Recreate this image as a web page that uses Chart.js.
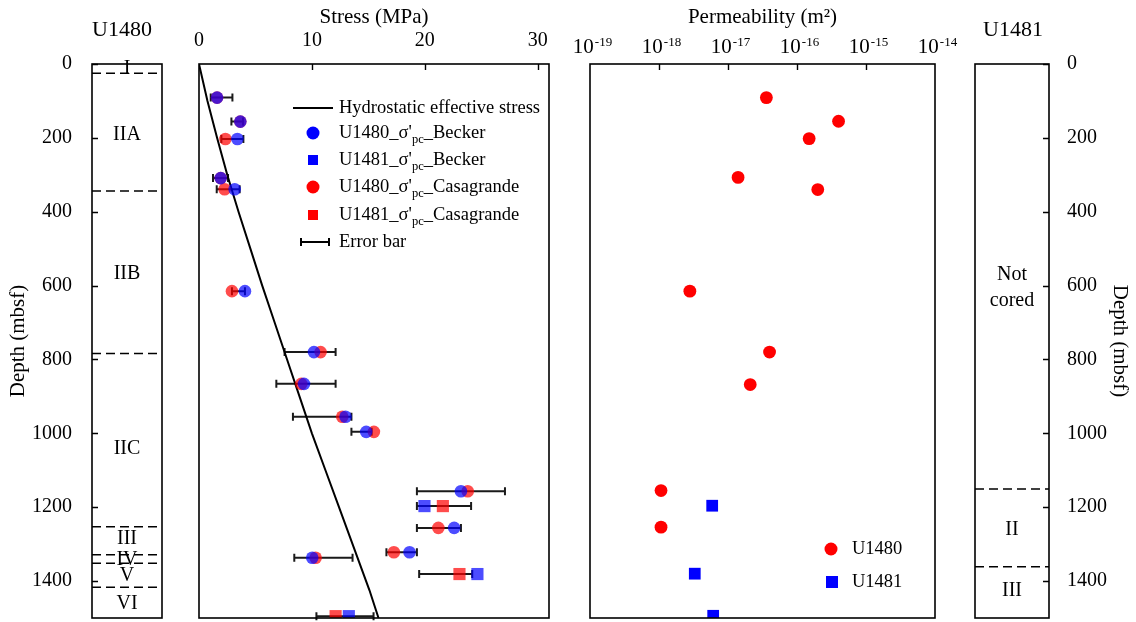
<!DOCTYPE html>
<html lang="en">
<head>
<meta charset="UTF-8">
<title>Preconsolidation stress and permeability, Sites U1480 / U1481</title>
<script src="https://cdn.jsdelivr.net/npm/chart.js@4.4.1/dist/chart.umd.min.js"></script>
<style>
    body { margin: 0; background: #fff; }
    #wrap { position: relative; width: 1136px; height: 622px; }
    #wrap canvas { position: absolute; top: 0; }
</style>
</head>
<body>
<div id="wrap">
    <canvas id="col1480" width="175" height="622" style="left:0px"></canvas>
    <canvas id="stress" width="395" height="622" style="left:175px"></canvas>
    <canvas id="perm" width="400" height="622" style="left:570px"></canvas>
    <canvas id="col1481" width="181" height="622" style="left:955px"></canvas>
</div>
<script>
// ---- depth axis shared by every panel (mbsf) ----
const depthMax = 1500;
const depthTicks = [0, 200, 400, 600, 800, 1000, 1200, 1400];

// ---- lithologic units ----
const units1480 = ['I', 'IIA', 'IIB', 'IIC', 'III', 'IV', 'V', 'VI'];
const unitMid1480 = [14, 192, 567, 1043, 1286, 1342, 1385, 1462];
const unitBounds1480 = [25, 344, 784, 1253, 1329, 1352, 1417];
const units1481 = ['Not\ncored', 'II', 'III'];
const unitMid1481 = [607, 1260, 1427];
const unitBounds1481 = [1151, 1361];

// ---- stress panel ----
const stressTicks = [0, 10, 20, 30];
const stressMax = 31;
const hydroDepth = [0, 100, 200, 300, 400, 500, 600, 700, 800, 900, 1000, 1100, 1200, 1300, 1425, 1500];
const hydroStress = [0, 0.75, 1.6, 2.5, 3.5, 4.55, 5.6, 6.7, 7.8, 8.9, 10.0, 11.2, 12.4, 13.6, 15.1, 15.9];

const depth1480 = [91, 156, 203, 309, 339, 615, 780, 866, 955, 996, 1157, 1256, 1322, 1337];
const becker1480 = [1.6, 3.66, 3.4, 1.92, 3.16, 4.07, 10.18, 9.3, 12.98, 14.81, 23.2, 22.6, 18.65, 10.03];
const casa1480 = [1.6, 3.66, 2.34, 1.92, 2.27, 2.92, 10.77, 9.06, 12.69, 15.49, 23.8, 21.2, 17.26, 10.33];
const errLo1480 = [1.04, 2.87, 1.98, 1.24, 1.57, 2.92, 7.58, 6.85, 8.32, 13.5, 19.3, 19.3, 16.6, 8.44];
const errHi1480 = [2.96, 3.9, 3.93, 2.57, 3.6, 4.07, 12.1, 12.1, 13.5, 15.3, 27.1, 23.2, 19.3, 13.6];

const depth1481 = [1197, 1381, 1495];
const becker1481 = [19.97, 24.66, 13.27];
const casa1481 = [21.6, 23.07, 12.1];
const errLo1481 = [19.3, 19.5, 10.4];
const errHi1481 = [24.1, 24.2, 15.46];

// ---- permeability panel (m^2) ----
const permExponents = [-19, -18, -17, -16, -15, -14];
const permDepth1480 = [91, 155, 202, 307, 340, 615, 780, 868, 1155, 1254];
const perm1480 = [3.6e-17, 4.0e-16, 1.5e-16, 1.4e-17, 2.0e-16, 2.8e-18, 4.0e-17, 2.1e-17, 1.07e-18, 1.07e-18];
const permDepth1481 = [1196, 1380, 1494];
const perm1481 = [5.9e-18, 3.3e-18, 6.1e-18];

const FONT = "'Liberation Serif', 'Times New Roman', serif";
const BLUE = 'rgba(0, 0, 255, 0.7)';
const RED = 'rgba(255, 0, 0, 0.7)';

Chart.defaults.font.family = FONT;
Chart.defaults.font.size = 20;
Chart.defaults.color = '#000';
Chart.defaults.animation = false;

const pts = (xs, ys) => xs.map((v, i) => ({ x: v, y: ys[i] }));

// box around the plot area plus short inward tick marks
const framePlugin = {
    id: 'frame',
    afterDatasetsDraw(chart, args, opts) {
        const { ctx, chartArea: a, scales } = chart;
        ctx.save();
        ctx.strokeStyle = '#000';
        ctx.lineWidth = 1.6;
        ctx.strokeRect(a.left, a.top, a.right - a.left, a.bottom - a.top);
        ctx.lineWidth = 1.4;
        ctx.beginPath();
        (opts.top || []).forEach(v => {
            const x = Math.round(scales.x.getPixelForValue(v)) + 0.5;
            ctx.moveTo(x, a.top); ctx.lineTo(x, a.top + 6);
        });
        (opts.left || []).forEach(v => {
            const y = Math.round(scales.y.getPixelForValue(v)) + 0.5;
            ctx.moveTo(a.left, y); ctx.lineTo(a.left + 6, y);
        });
        (opts.right || []).forEach(v => {
            const y = Math.round(scales.y.getPixelForValue(v)) + 0.5;
            ctx.moveTo(a.right, y); ctx.lineTo(a.right - 6, y);
        });
        ctx.stroke();
        ctx.restore();
    }
};

// unit names inside the lithology columns and the site heading above
const unitLabels = {
    id: 'unitLabels',
    afterDatasetsDraw(chart, args, opts) {
        const { ctx, chartArea: a, scales: { y } } = chart;
        const cx = (a.left + a.right) / 2;
        const names = chart.canvas.id === 'col1480' ? units1480 : units1481;
        const mids = chart.canvas.id === 'col1480' ? unitMid1480 : unitMid1481;
        ctx.save();
        ctx.fillStyle = '#000';
        ctx.textAlign = 'center';
        ctx.textBaseline = 'middle';
        ctx.font = `20px ${FONT}`;
        names.forEach((name, i) => {
            const lines = name.split('\n');
            const yc = y.getPixelForValue(mids[i]);
            lines.forEach((ln, k) => ctx.fillText(ln, cx, yc + (k - (lines.length - 1) / 2) * 26));
        });
        ctx.font = `22px ${FONT}`;
        ctx.fillText(opts.title, cx + (opts.titleShift || 0), 30);
        ctx.restore();
    }
};

// horizontal error bars, drawn under the markers
const errorBars = {
    id: 'errorBars',
    beforeDatasetsDraw(chart) {
        const { ctx, scales: { x, y } } = chart;
        const sets = [[depth1480, errLo1480, errHi1480], [depth1481, errLo1481, errHi1481]];
        ctx.save();
        ctx.strokeStyle = '#1a1a1a';
        ctx.lineWidth = 2;
        sets.forEach(([dep, lo, hi]) => {
            dep.forEach((d, i) => {
                const yy = y.getPixelForValue(d);
                const x1 = x.getPixelForValue(lo[i]);
                const x2 = x.getPixelForValue(hi[i]);
                ctx.beginPath();
                ctx.moveTo(x1, yy); ctx.lineTo(x2, yy);
                ctx.moveTo(x1, yy - 4); ctx.lineTo(x1, yy + 4);
                ctx.moveTo(x2, yy - 4); ctx.lineTo(x2, yy + 4);
                ctx.stroke();
            });
        });
        ctx.restore();
    }
};

// text with a "pc" subscript after the sigma prime
function drawSubLabel(ctx, x, y, site, method) {
    ctx.font = `18.5px ${FONT}`;
    const head = site + "_\u03c3'";
    ctx.fillText(head, x, y);
    let cx = x + ctx.measureText(head).width;
    ctx.font = `12.5px ${FONT}`;
    ctx.fillText('pc', cx, y + 7);
    cx += ctx.measureText('pc').width;
    ctx.font = `18.5px ${FONT}`;
    ctx.fillText('_' + method, cx, y);
}

const stressLegend = {
    id: 'stressLegend',
    afterDraw(chart) {
        const { ctx, chartArea: a } = chart;
        const mx = a.left + 114, tx = a.left + 140;
        const rows = [a.top + 44, a.top + 69, a.top + 96, a.top + 123, a.top + 151, a.top + 178];
        ctx.save();
        ctx.textAlign = 'left';
        ctx.textBaseline = 'middle';
        ctx.fillStyle = '#000';
        ctx.strokeStyle = '#000';
        ctx.lineWidth = 2;
        ctx.beginPath();
        ctx.moveTo(a.left + 94, rows[0]); ctx.lineTo(a.left + 134, rows[0]);
        ctx.stroke();
        ctx.font = `18.5px ${FONT}`;
        ctx.fillText('Hydrostatic effective stress', tx, rows[0]);

        const items = [
            ['circle', '#0000ff', 'U1480', 'Becker'],
            ['rect', '#0000ff', 'U1481', 'Becker'],
            ['circle', '#ff0000', 'U1480', 'Casagrande'],
            ['rect', '#ff0000', 'U1481', 'Casagrande']
        ];
        items.forEach(([shape, color, site, method], i) => {
            const yy = rows[i + 1];
            ctx.fillStyle = color;
            if (shape === 'circle') {
                ctx.beginPath(); ctx.arc(mx, yy, 6.5, 0, Math.PI * 2); ctx.fill();
            } else {
                ctx.fillRect(mx - 5, yy - 5, 10, 10);
            }
            ctx.fillStyle = '#000';
            drawSubLabel(ctx, tx, yy, site, method);
        });

        const ey = rows[5];
        ctx.beginPath();
        ctx.moveTo(a.left + 102, ey); ctx.lineTo(a.left + 130, ey);
        ctx.moveTo(a.left + 102, ey - 4); ctx.lineTo(a.left + 102, ey + 4);
        ctx.moveTo(a.left + 130, ey - 4); ctx.lineTo(a.left + 130, ey + 4);
        ctx.stroke();
        ctx.font = `18.5px ${FONT}`;
        ctx.fillText('Error bar', tx, ey);
        ctx.restore();
    }
};

// 10^n labels along the top of the permeability panel, plus its legend
const permLabels = {
    id: 'permLabels',
    afterDraw(chart) {
        const { ctx, chartArea: a, scales: { x } } = chart;
        ctx.save();
        ctx.fillStyle = '#000';
        ctx.textBaseline = 'alphabetic';
        ctx.textAlign = 'left';
        permExponents.forEach(e => {
            const px = x.getPixelForValue(Math.pow(10, e));
            ctx.font = `21px ${FONT}`;
            const w1 = ctx.measureText('10').width;
            ctx.font = `13px ${FONT}`;
            const sup = String(e);
            const w2 = ctx.measureText(sup).width;
            const left = px - (w1 + w2) / 2 + 2;
            ctx.font = `21px ${FONT}`;
            ctx.fillText('10', left, 53);
            ctx.font = `13px ${FONT}`;
            ctx.fillText(sup, left + w1 + 1, 46);
        });

        // legend
        ctx.textBaseline = 'middle';
        ctx.font = `18.5px ${FONT}`;
        ctx.fillStyle = '#ff0000';
        ctx.beginPath(); ctx.arc(a.left + 241, a.top + 485, 6.5, 0, Math.PI * 2); ctx.fill();
        ctx.fillStyle = '#0000ff';
        ctx.fillRect(a.left + 236, a.top + 512, 12, 12);
        ctx.fillStyle = '#000';
        ctx.fillText('U1480', a.left + 262, a.top + 485);
        ctx.fillText('U1481', a.left + 262, a.top + 518);
        ctx.restore();
    }
};

const hiddenY = {
    display: false, min: 0, max: depthMax, reverse: true
};
const noGrid = { display: false, drawTicks: false };

function boundaryLines(bounds) {
    return bounds.map(b => ({
        type: 'line',
        data: [{ x: 0, y: b }, { x: 1, y: b }],
        borderColor: '#000',
        borderWidth: 1.5,
        borderDash: [9, 5],
        pointRadius: 0
    }));
}

function columnChart(id, title, bounds, side, titleShift) {
    const yAxis = {
        position: side, min: 0, max: depthMax, reverse: true,
        grid: noGrid, border: { display: false },
        afterBuildTicks: s => { s.ticks = depthTicks.map(v => ({ value: v })); },
        afterFit: s => {
            s.width = side === 'left' ? 92 : 87;
            // keep the label overhang from shrinking the column
            s.paddingTop = 0;
            s.paddingBottom = 0;
        },
        ticks: { padding: side === 'left' ? 20 : 18, font: { size: 20 }, callback: v => String(v) },
        title: {
            display: true, text: 'Depth (mbsf)', font: { size: 21 },
            padding: { top: side === 'left' ? 6 : 4, bottom: 0 }
        }
    };
    return new Chart(document.getElementById(id), {
        type: 'scatter',
        data: { datasets: boundaryLines(bounds) },
        options: {
            responsive: false,
            layout: {
                autoPadding: false,
                padding: side === 'left'
                    ? { top: 64, bottom: 4, left: 0, right: 13 }
                    : { top: 64, bottom: 4, left: 20, right: 0 }
            },
            scales: {
                x: { display: false, min: 0, max: 1 },
                y: yAxis
            },
            plugins: {
                legend: { display: false },
                tooltip: { enabled: false },
                frame: side === 'left' ? { left: depthTicks } : { right: depthTicks },
                unitLabels: { title: title, titleShift: titleShift }
            }
        },
        plugins: [framePlugin, unitLabels]
    });
}

columnChart('col1480', 'U1480', unitBounds1480, 'left', -5);
columnChart('col1481', 'U1481', unitBounds1481, 'right', 1);

// preconsolidation stress vs depth
new Chart(document.getElementById('stress'), {
    type: 'scatter',
    data: {
        datasets: [
            { label: 'U1480_Becker', data: pts(becker1480, depth1480), backgroundColor: BLUE, pointStyle: 'circle', pointRadius: 6.3, borderWidth: 0 },
            { label: 'U1481_Becker', data: pts(becker1481, depth1481), backgroundColor: BLUE, pointStyle: 'rect', pointRadius: 8.6, borderWidth: 0 },
            { label: 'U1480_Casagrande', data: pts(casa1480, depth1480), backgroundColor: RED, pointStyle: 'circle', pointRadius: 6.3, borderWidth: 0 },
            { label: 'U1481_Casagrande', data: pts(casa1481, depth1481), backgroundColor: RED, pointStyle: 'rect', pointRadius: 8.6, borderWidth: 0 },
            { label: 'Hydrostatic effective stress', type: 'line', data: pts(hydroStress, hydroDepth), borderColor: '#000', borderWidth: 2, pointRadius: 0, tension: 0 }
        ]
    },
    options: {
        responsive: false,
        layout: { autoPadding: false, padding: { top: 0, bottom: 4, left: 24, right: 21 } },
        scales: {
            x: {
                position: 'top', min: 0, max: stressMax,
                grid: noGrid, border: { display: false },
                afterBuildTicks: s => { s.ticks = stressTicks.map(v => ({ value: v })); },
                afterFit: s => { s.height = 64; },
                ticks: { padding: 11, font: { size: 20 } },
                title: { display: true, text: 'Stress (MPa)', font: { size: 21 }, padding: { top: 5, bottom: 0 } }
            },
            y: hiddenY
        },
        plugins: {
            legend: { display: false },
            tooltip: { enabled: false },
            frame: { top: [10, 20, 30] }
        }
    },
    plugins: [errorBars, framePlugin, stressLegend]
});

// permeability vs depth
new Chart(document.getElementById('perm'), {
    type: 'scatter',
    data: {
        datasets: [
            { label: 'U1480', data: pts(perm1480, permDepth1480), backgroundColor: '#ff0000', pointStyle: 'circle', pointRadius: 6.4, borderWidth: 0 },
            { label: 'U1481', data: pts(perm1481, permDepth1481), backgroundColor: '#0000ff', pointStyle: 'rect', pointRadius: 8.3, borderWidth: 0 }
        ]
    },
    options: {
        responsive: false,
        layout: { autoPadding: false, padding: { top: 0, bottom: 4, left: 20, right: 35 } },
        scales: {
            x: {
                type: 'logarithmic', position: 'top', min: 1e-19, max: 1e-14,
                grid: noGrid, border: { display: false },
                afterBuildTicks: s => { s.ticks = permExponents.map(e => ({ value: Math.pow(10, e) })); },
                afterFit: s => { s.height = 64; },
                ticks: { display: false },
                title: { display: true, text: 'Permeability (m\u00b2)', font: { size: 21 }, padding: { top: 5, bottom: 0 } }
            },
            y: hiddenY
        },
        plugins: {
            legend: { display: false },
            tooltip: { enabled: false },
            frame: { top: [1e-18, 1e-17, 1e-16, 1e-15] }
        }
    },
    plugins: [framePlugin, permLabels]
});
</script>
</body>
</html>
